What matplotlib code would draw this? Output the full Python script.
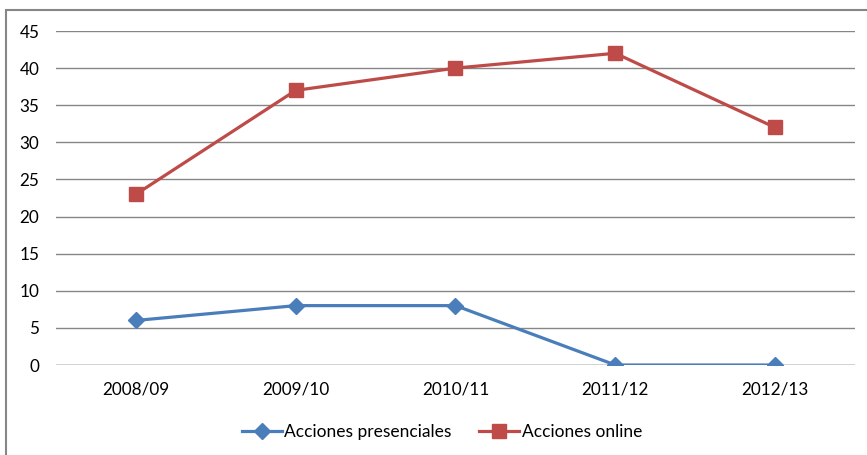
import matplotlib
matplotlib.use("Agg")
import matplotlib.pyplot as plt
from matplotlib.patches import Rectangle

categories = ["2008/09", "2009/10", "2010/11", "2011/12", "2012/13"]
presenciales = [6, 8, 8, 0, 0]
online = [23, 37, 40, 42, 32]
yticks = [0, 5, 10, 15, 20, 25, 30, 35, 40, 45]

plt.rcParams['font.family'] = ['Lato', 'DejaVu Sans']

W, H = 867, 455
fig = plt.figure(figsize=(W/100, H/100), dpi=100)
ax = fig.add_axes([56/W, 1-365/H, (855-56)/W, (365-31)/H])

blue = "#4A7EBB"
red = "#BE4B48"
x = list(range(len(categories)))
ax.plot(x, presenciales, color=blue, lw=2.3, marker="D", ms=8.5, label="Acciones presenciales", zorder=3)
ax.plot(x, online, color=red, lw=2.3, marker="s", ms=10.5, label="Acciones online", zorder=3)

ax.set_xlim(-0.5, 4.5)
ax.set_ylim(0, 45)
ax.set_yticks(yticks)
ax.set_xticks(x)
ax.set_xticklabels(categories)
for s in ax.spines.values():
    s.set_visible(False)
ax.grid(axis="y", color="#868686", lw=1.0)
ax.set_axisbelow(True)
ax.tick_params(length=0, labelsize=12.3, colors="black")
ax.tick_params(axis="y", pad=12)
ax.tick_params(axis="x", pad=12)
ax.axhline(0, color="#868686", lw=1.0, zorder=1)

leg = fig.legend(loc="center", bbox_to_anchor=(442/W, 1-432/H), ncol=2, frameon=False,
                 fontsize=12.5, handlelength=2.3, handletextpad=0.15, columnspacing=1.6)

fig.patches.append(Rectangle((6/W, -0.1), 1.2, 1-10/H+0.1, transform=fig.transFigure,
                             fill=False, edgecolor="#868686", lw=1.5))

fig.savefig("out.png", dpi=100)
